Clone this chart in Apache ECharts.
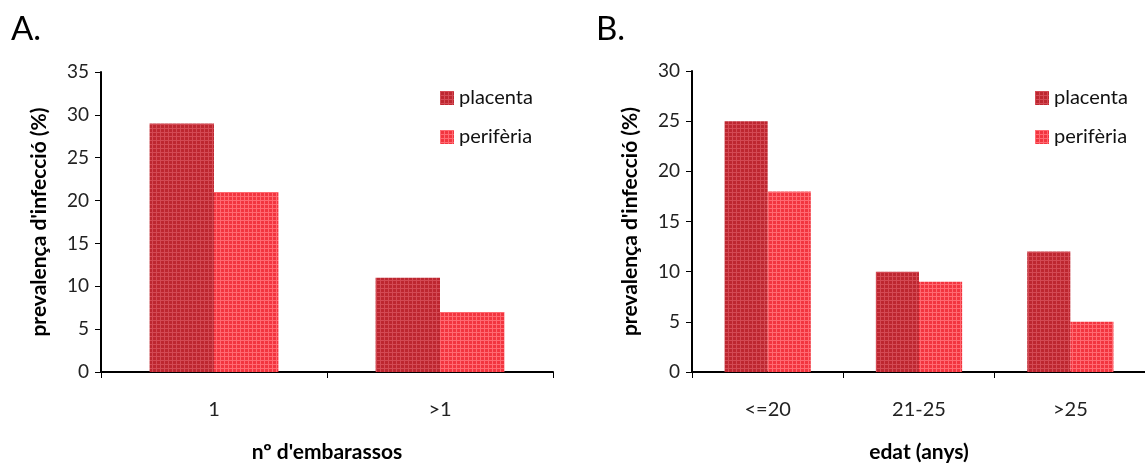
<!DOCTYPE html>
<html>
<head>
<meta charset="utf-8">
<script src="https://cdn.jsdelivr.net/npm/echarts@6/dist/echarts.min.js"></script>
<style>
  html, body { margin: 0; padding: 0; background: #fff; }
  #chart { width: 1145px; height: 466px; }
</style>
</head>
<body>
<div id="chart"></div>
<script>
// Panel A: infection prevalence by number of pregnancies
const catsA = ['1', '>1'];
const placentaA = [29, 11];
const periferiaA = [21, 7];

// Panel B: infection prevalence by age
const catsB = ['<=20', '21-25', '>25'];
const placentaB = [25, 10, 12];
const periferiaB = [18, 9, 5];

const seriesNames = ['placenta', 'perifèria'];
const yTicksA = { max: 35, interval: 5 };
const yTicksB = { max: 30, interval: 5 };

const FONT = 'Lato, "Open Sans", sans-serif';

// small checkered tile used as bar fill
function plaid(base, line) {
  const c = document.createElement('canvas');
  c.width = 4; c.height = 4;
  const g = c.getContext('2d');
  g.fillStyle = base; g.fillRect(0, 0, 4, 4);
  g.fillStyle = line;
  g.fillRect(0, 0, 4, 1);
  g.fillRect(0, 0, 1, 4);
  return { image: c, repeat: 'repeat' };
}
const fillPlacenta = plaid('#bd2730', '#d34a54');
const fillPeriferia = plaid('#f2353f', '#ff6a72');

const chart = echarts.init(document.getElementById('chart'), null, { renderer: 'canvas' });

function yAxis(grid, ticks) {
  return {
    type: 'value', gridIndex: grid, min: 0, max: ticks.max, interval: ticks.interval,
    name: "prevalença d'infecció (%)", nameLocation: 'middle', nameGap: 51,
    nameTextStyle: { fontFamily: FONT, fontSize: 21, fontWeight: 'bold', color: '#000' },
    axisLine: { show: true, lineStyle: { color: '#000', width: 2 } },
    axisTick: { show: true, length: 6, lineStyle: { color: '#000', width: 1 } },
    axisLabel: { fontFamily: FONT, fontSize: 19, color: '#222', margin: 12 },
    splitLine: { show: false }
  };
}
function xAxis(grid, cats, name) {
  return {
    type: 'category', gridIndex: grid, data: cats, boundaryGap: true,
    name: name, nameLocation: 'middle', nameGap: 70,
    nameTextStyle: { fontFamily: FONT, fontSize: 21, fontWeight: 'bold', color: '#000' },
    axisLine: { lineStyle: { color: '#000', width: 2 } },
    axisTick: { show: true, length: 6, alignWithLabel: false, lineStyle: { color: '#000', width: 1 } },
    axisLabel: { fontFamily: FONT, fontSize: 20, color: '#222', margin: 28 }
  };
}
function legend(left) {
  return {
    data: seriesNames, orient: 'vertical', left: left, top: 81, itemGap: 15,
    itemWidth: 14, itemHeight: 14, icon: 'rect',
    textStyle: { fontFamily: FONT, fontSize: 20, lineHeight: 24, color: '#111' }
  };
}
function bar(name, data, fill, ax) {
  return {
    name: name, type: 'bar', data: data, xAxisIndex: ax, yAxisIndex: ax,
    barGap: '0%', barCategoryGap: '43%',
    itemStyle: { color: fill }
  };
}

chart.setOption({
  animation: false,
  title: [
    { text: 'A.', left: 6, top: 8, textStyle: { fontFamily: FONT, fontSize: 33, fontWeight: 'normal', color: '#000' } },
    { text: 'B.', left: 591, top: 8, textStyle: { fontFamily: FONT, fontSize: 33, fontWeight: 'normal', color: '#000' } }
  ],
  legend: [legend(435), legend(1030)],
  grid: [
    { left: 101, top: 72, width: 452, height: 300, outerBoundsMode: 'none', containLabel: false },
    { left: 692, top: 71, width: 454, height: 301, outerBoundsMode: 'none', containLabel: false }
  ],
  xAxis: [xAxis(0, catsA, "nº d'embarassos"), xAxis(1, catsB, 'edat (anys)')],
  yAxis: [yAxis(0, yTicksA), yAxis(1, yTicksB)],
  series: [
    bar(seriesNames[0], placentaA, fillPlacenta, 0),
    bar(seriesNames[1], periferiaA, fillPeriferia, 0),
    bar(seriesNames[0], placentaB, fillPlacenta, 1),
    bar(seriesNames[1], periferiaB, fillPeriferia, 1)
  ]
});
</script>
</body>
</html>
